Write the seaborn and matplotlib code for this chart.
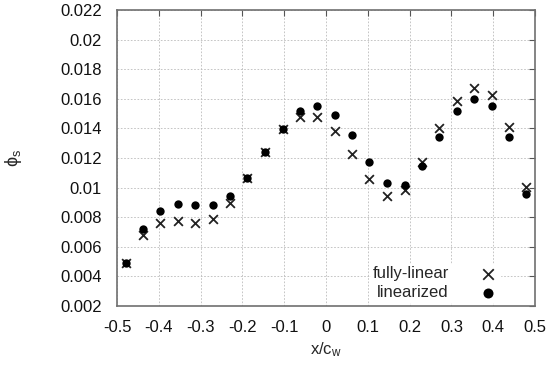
import matplotlib
matplotlib.use("Agg")
import matplotlib.pyplot as plt
import seaborn as sns
import pandas as pd

x_pos = [-0.479, -0.438, -0.396, -0.354, -0.313, -0.271, -0.229, -0.188,
         -0.146, -0.104, -0.063, -0.021, 0.021, 0.063, 0.104, 0.146,
         0.188, 0.229, 0.271, 0.313, 0.354, 0.396, 0.438, 0.479]
fully_linear = [0.0049, 0.0068, 0.00763, 0.00772, 0.00759, 0.0079, 0.00894, 0.01065,
                0.01243, 0.01396, 0.01475, 0.01475, 0.01385, 0.01227, 0.01056, 0.00945,
                0.00986, 0.01175, 0.01401, 0.01587, 0.01671, 0.01626, 0.01412, 0.01002]
linearized = [0.00493, 0.00722, 0.00844, 0.00887, 0.00884, 0.00884, 0.00943, 0.01065,
              0.01243, 0.01396, 0.01518, 0.01551, 0.01493, 0.01355, 0.01175, 0.01033,
              0.01015, 0.01148, 0.01344, 0.0152, 0.01599, 0.01551, 0.01344, 0.00955]
x_ticks = [-0.5, -0.4, -0.3, -0.2, -0.1, 0, 0.1, 0.2, 0.3, 0.4, 0.5]
x_ticklabels = ["-0.5", "-0.4", "-0.3", "-0.2", "-0.1", "0", "0.1", "0.2", "0.3", "0.4", "0.5"]
y_ticks = [0.002, 0.004, 0.006, 0.008, 0.01, 0.012, 0.014, 0.016, 0.018, 0.02, 0.022]
y_ticklabels = ["0.002", "0.004", "0.006", "0.008", "0.01", "0.012", "0.014",
                "0.016", "0.018", "0.02", "0.022"]

sns.set_style("white")
plt.rcParams['font.family'] = ['Liberation Sans', 'DejaVu Sans']
plt.rcParams['mathtext.fontset'] = 'custom'
plt.rcParams['mathtext.rm'] = 'Liberation Sans'
plt.rcParams['mathtext.it'] = 'Liberation Sans'

FS = 12

df_fl = pd.DataFrame({"x": x_pos, "y": fully_linear})
df_li = pd.DataFrame({"x": x_pos, "y": linearized})

fig = plt.figure(figsize=(5.53, 3.73), dpi=100)
ax = fig.add_axes([117/553, 1 - 306/373, (535 - 117)/553, (306 - 10)/373])

sns.scatterplot(data=df_fl, x="x", y="y", ax=ax, marker="x", s=40, color="#222222",
                linewidth=1.3, label="fully-linear", zorder=3)
sns.scatterplot(data=df_li, x="x", y="y", ax=ax, marker="o", s=36, color="black",
                edgecolor="black", linewidth=0, label="linearized", zorder=4)

ax.set_xlim(-0.5, 0.5)
ax.set_ylim(0.002, 0.022)
ax.set_xticks(x_ticks)
ax.set_xticklabels(x_ticklabels)
ax.set_yticks(y_ticks)
ax.set_yticklabels(y_ticklabels)
ax.grid(True, color="#bbbbbb", linestyle=(0, (2, 2)), linewidth=0.6)
ax.tick_params(direction="in", length=4, width=0.8, color="#555555",
               top=True, right=True, labelsize=FS, labelcolor="#111111")
ax.tick_params(axis="x", pad=10)
ax.tick_params(axis="y", pad=11)
for sp in ax.spines.values():
    sp.set_color("#707070")
    sp.set_linewidth(1.2)
    sp.set_visible(True)
    sp.set_zorder(6)

ax.set_xlabel(r"x/c$_\mathrm{w}$", fontsize=FS, labelpad=4)
ax.set_ylabel(r"$\phi_\mathrm{s}$", fontsize=FS + 1, labelpad=26)

leg = ax.legend(loc="lower right", bbox_to_anchor=(0.9355, -0.014), markerfirst=False,
                frameon=True, fontsize=FS, handletextpad=1.75, borderpad=0.1,
                labelspacing=0.25, handlelength=1.2, markerscale=1.2)
leg.get_frame().set_facecolor("white")
leg.get_frame().set_edgecolor("white")
leg.get_frame().set_alpha(1)
leg.get_frame().set_boxstyle("square", pad=0)

fig.savefig("out.png", dpi=100)
